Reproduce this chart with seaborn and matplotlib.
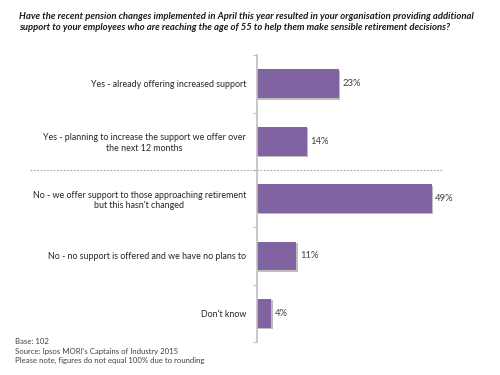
import matplotlib
matplotlib.use("Agg")
import matplotlib.pyplot as plt
import matplotlib.patheffects as pe
import seaborn as sns
import pandas as pd
import numpy as np

categories = [
    "Yes - already offering increased support",
    "Yes - planning to increase the support we offer over\nthe next 12 months",
    "No - we offer support to those approaching retirement\nbut this hasn't changed",
    "No - no support is offered and we have no plans to",
    "Don't know",
]
values = [23, 14, 49, 11, 4]
value_labels = ["23%", "14%", "49%", "11%", "4%"]

title = ("Have the recent pension changes implemented in April this year resulted in your organisation providing additional\n"
         "support to your employees who are reaching the age of 55 to help them make sensible retirement decisions?")
notes = ["Base: 102",
         "Source: Ipsos MORI's Captains of Industry 2015",
         "Please note, figures do not equal 100% due to rounding"]

sns.set_style("white")
plt.rcParams['font.family'] = ['Lato', 'DejaVu Sans']

df = pd.DataFrame({"cat": categories, "val": values})

fig = plt.figure(figsize=(5, 3.75), dpi=100)
ax = fig.add_axes([0.514, 0.088, 0.428, 0.765])
sns.barplot(data=df, y="cat", x="val", orient="h", color="#8064A2",
            saturation=1, width=0.5, linewidth=0, edgecolor="none", ax=ax)
for p in ax.patches:
    p.set_path_effects([pe.SimplePatchShadow(offset=(1.0, -1.0), shadow_rgbFace="#444444", alpha=0.35), pe.Normal()])
ax.set_xlim(0, 60)
ax.set_ylim(len(categories) - 0.5, -0.5)
ax.set_xlabel("")
ax.set_ylabel("")
ax.set_xticks([])
for s in ["top", "right", "bottom"]:
    ax.spines[s].set_visible(False)
ax.spines["left"].set_color("#BFBFBF")
ax.spines["left"].set_linewidth(1.2)
ax.tick_params(axis="y", which="major", length=0, pad=8, labelsize=6.4, labelcolor="#262626")
ax.set_yticks(range(len(categories)))
ax.set_yticklabels(categories, ha="center", multialignment="center")
for lab in ax.get_yticklabels():
    lab.set_horizontalalignment("right")
ax.set_yticks(np.arange(-0.5, len(categories), 1), minor=True)
ax.tick_params(axis="y", which="minor", length=3, color="#BFBFBF", width=0.8, left=True)

for i, (v, t) in enumerate(zip(values, value_labels)):
    ax.text(v + 1.0, i, t, va="center", ha="left", fontsize=6.8, color="#404040")

ax.axhline(1.5, xmin=-1.06, xmax=0.864, clip_on=False, color="#A6A6A6",
           linestyle=(0, (1.5, 1.5)), linewidth=0.8)

fig.text(0.038, 0.968, title, ha="left", va="top", fontsize=6.85, fontweight="bold",
         fontstyle="italic", color="#1a1a1a", linespacing=1.35)
for k, n in enumerate(notes):
    fig.text(0.03, 0.088 - k * 0.025, n, ha="left", va="center", fontsize=5.6, color="#404040")

fig.savefig("out.png", dpi=100)
